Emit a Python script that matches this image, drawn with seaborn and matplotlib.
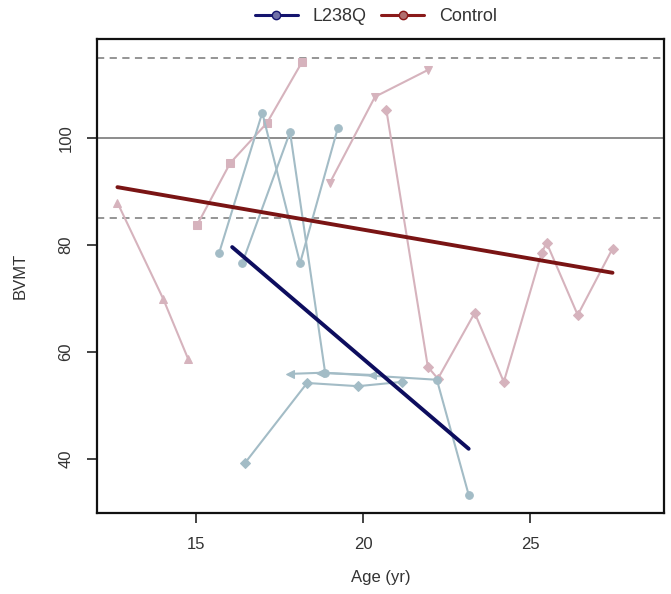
import pandas as pd
import matplotlib
matplotlib.use("Agg")
import matplotlib.pyplot as plt
from matplotlib.lines import Line2D
import seaborn as sns

# ---- data ----------------------------------------------------------------
# Control trajectories (age in years, BVMT score)
ctrl1_age = [12.66, 14.03, 14.78]
ctrl1_val = [87.9, 69.9, 58.6]
ctrl2_age = [15.04, 16.03, 17.13, 18.18]
ctrl2_val = [83.7, 95.3, 102.8, 114.2]
ctrl3_age = [19.01, 20.36, 21.94]
ctrl3_val = [91.6, 107.7, 112.7]
ctrl4_age = [20.70, 21.94, 22.24, 23.34, 24.21, 25.34, 25.49, 26.42, 27.46]
ctrl4_val = [105.2, 57.2, 55.0, 67.3, 54.4, 78.5, 80.4, 66.9, 79.3]

# L238Q trajectories
mut1_age = [15.70, 16.99, 18.12, 19.25]
mut1_val = [78.5, 104.7, 76.6, 101.9]
mut2_age = [16.39, 17.82, 18.87, 22.21, 23.16]
mut2_val = [76.6, 101.1, 56.1, 54.8, 33.3]
mut3_age = [16.48, 18.33, 19.85, 21.16]
mut3_val = [39.3, 54.2, 53.6, 54.4]
mut4_age = [17.82, 18.72, 20.27]
mut4_val = [55.9, 56.1, 55.7]

# group fit lines (end points)
ctrl_fit_age = [12.66, 27.46]
ctrl_fit_val = [90.8, 74.8]
mut_fit_age = [16.09, 23.16]
mut_fit_val = [79.6, 41.9]

# reference lines
ref_mean = 100
ref_sd = [85, 115]

# ---- build a long table ----------------------------------------------------
rows = []
subjects = [
    ("c1", "Control", ctrl1_age, ctrl1_val),
    ("c2", "Control", ctrl2_age, ctrl2_val),
    ("c3", "Control", ctrl3_age, ctrl3_val),
    ("c4", "Control", ctrl4_age, ctrl4_val),
    ("m1", "L238Q", mut1_age, mut1_val),
    ("m2", "L238Q", mut2_age, mut2_val),
    ("m3", "L238Q", mut3_age, mut3_val),
    ("m4", "L238Q", mut4_age, mut4_val),
]
for sid, grp, ages, vals in subjects:
    for a, v in zip(ages, vals):
        rows.append({"subject": sid, "group": grp, "age": a, "bvmt": v})
df = pd.DataFrame(rows)

ctrl_col = "#d6b3bd"
mut_col = "#a3bcc6"
pal = {sid: (ctrl_col if grp == "Control" else mut_col) for sid, grp, _, _ in subjects}
mk = {"c1": "^", "c2": "s", "c3": "v", "c4": "D",
      "m1": "o", "m2": "o", "m3": "D", "m4": "<"}

# ---- plot ------------------------------------------------------------------
sns.set_theme(style="white")
plt.rcParams["font.family"] = ["Liberation Sans", "DejaVu Sans"]

fig = plt.figure(figsize=(6.71, 5.94), dpi=100)
ax = fig.add_axes([0.1446, 0.1364, 0.845, 0.798])

for y in ref_sd:
    ax.axhline(y, color="#8c8c8c", lw=1.3, ls=(0, (4, 3)), zorder=1)
ax.axhline(ref_mean, color="#6e6e6e", lw=1.1, zorder=1)

sns.lineplot(data=df, x="age", y="bvmt", hue="subject", style="subject",
             units="subject", estimator=None, sort=False, palette=pal,
             markers=mk, dashes=False, markersize=5.5,
             linewidth=1.5, legend=False, ax=ax, zorder=2)
# markers filled in the line colour, no white edge
for ln in ax.lines:
    if ln.get_marker() not in (None, "None", ""):
        ln.set_markeredgecolor(ln.get_color())

sns.lineplot(x=ctrl_fit_age, y=ctrl_fit_val, color="#7a1414", lw=2.8, ax=ax, zorder=3)
sns.lineplot(x=mut_fit_age, y=mut_fit_val, color="#0d0d5e", lw=2.8, ax=ax, zorder=3)

ax.set_xlim(12.05, 29.0)
ax.set_ylim(29.9, 118.5)
ax.set_xticks([15, 20, 25])
ax.set_yticks([40, 60, 80, 100])
ax.tick_params(axis="both", direction="out", length=7, width=1.2,
               color="#222222", labelsize=12, labelcolor="#333333", pad=10,
               bottom=True, left=True)
ax.tick_params(axis="y", labelrotation=90)
for lab in ax.get_yticklabels():
    lab.set_va("center")

for s in ax.spines.values():
    s.set_color("#111111")
    s.set_linewidth(1.6)

ax.set_xlabel("Age (yr)", fontsize=12, color="#333333", labelpad=13)
ax.set_ylabel("BVMT", fontsize=12, color="#333333", labelpad=22)

handles = [
    Line2D([], [], color="#14146e", lw=2.2, marker="o", markersize=6,
           markerfacecolor="#6f6fa8", markeredgecolor="#14146e"),
    Line2D([], [], color="#8a1a1a", lw=2.2, marker="o", markersize=6,
           markerfacecolor="#b07070", markeredgecolor="#8a1a1a"),
]
fig.legend(handles, ["L238Q", "Control"], loc="center", ncol=2,
           bbox_to_anchor=(0.56, 0.972), frameon=False, fontsize=13,
           handlelength=2.4, columnspacing=0.8, handletextpad=0.8,
           labelcolor="#333333")

fig.savefig("out.png", dpi=100)
